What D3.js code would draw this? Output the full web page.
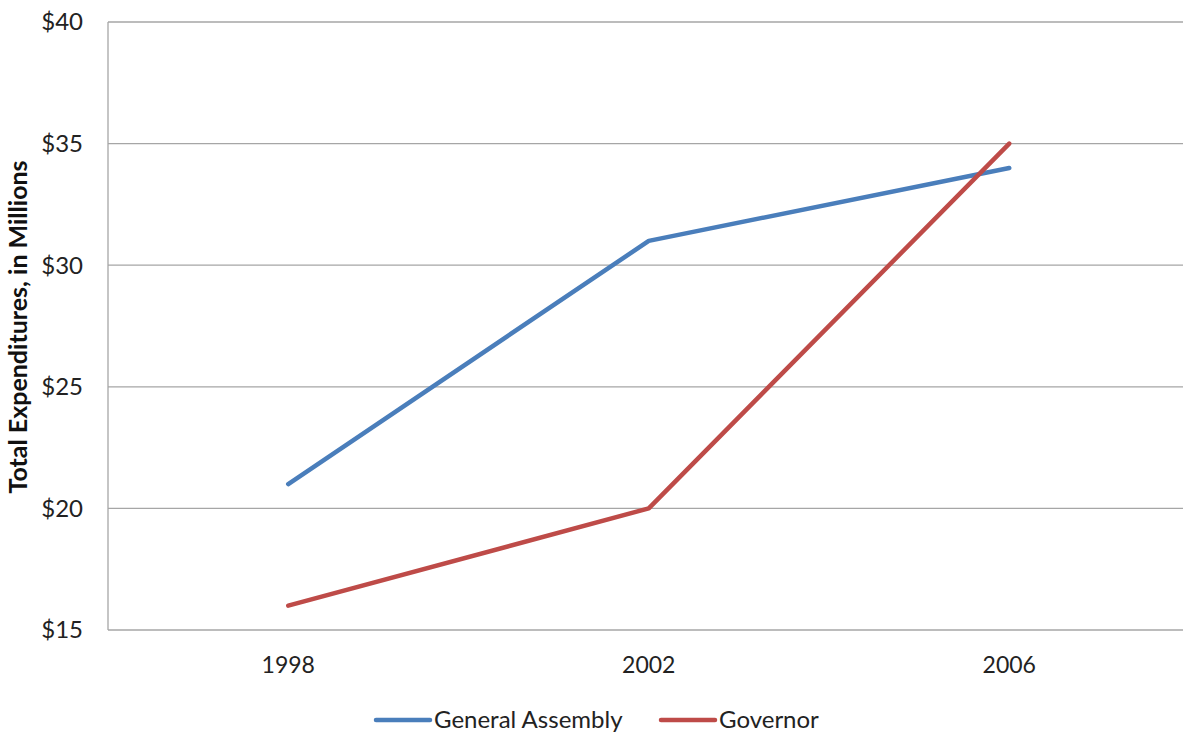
<!DOCTYPE html>
<html><head><meta charset="utf-8">
<script src="https://cdn.jsdelivr.net/npm/d3@7"></script>
<style>body{margin:0;background:#fff}svg{display:block}text{font-family:Lato,"Open Sans",sans-serif}</style>
</head><body>
<script>
const categories = ["1998","2002","2006"];
const generalAssembly = [21,31,34];
const governor = [16,20,35];
const yTicks = [15,20,25,30,35,40];
const seriesNames = ["General Assembly","Governor"];
const colors = ["#4a7ebb","#be4b48"];

(function(){
const W=1183,H=734;
const svg=d3.select("body").append("svg").attr("width",W).attr("height",H);
const pLeft=108, pTop=22, pBottom=630, band=360.5;
const x=d3.scaleBand().domain(categories).range([pLeft,pLeft+band*3]);
const y=d3.scaleLinear().domain([15,40]).range([pBottom,pTop]);

svg.append("g").selectAll("line").data(yTicks).join("line")
 .attr("x1",pLeft).attr("x2",W).attr("y1",d=>y(d)).attr("y2",d=>y(d))
 .attr("stroke","#a6a6a6").attr("stroke-width",1.3);
svg.append("line").attr("x1",pLeft).attr("x2",pLeft).attr("y1",pTop).attr("y2",pBottom)
 .attr("stroke","#a6a6a6").attr("stroke-width",1.3);

svg.append("g").selectAll("text").data(yTicks).join("text")
 .attr("x",83).attr("y",d=>y(d)).attr("dy","0.35em").attr("text-anchor","end")
 .attr("font-size",24).attr("fill","#222").text(d=>"$"+d);

svg.append("g").selectAll("text").data(categories).join("text")
 .attr("x",d=>x(d)+x.bandwidth()/2).attr("y",673).attr("text-anchor","middle")
 .attr("font-size",23).attr("fill","#222").text(d=>d);

svg.append("text").attr("transform","translate(27,327) rotate(-90)")
 .attr("text-anchor","middle").attr("font-size",25).attr("font-weight","bold").attr("fill","#111")
 .text("Total Expenditures, in Millions");

const line=d3.line().x((d,i)=>x(categories[i])+x.bandwidth()/2).y(d=>y(d));
[generalAssembly,governor].forEach((s,i)=>{
 svg.append("path").attr("d",line(s)).attr("fill","none").attr("stroke",colors[i])
  .attr("stroke-width",4.5).attr("stroke-linejoin","round").attr("stroke-linecap","round");
});

const legX=[376,661];
seriesNames.forEach((n,i)=>{
 svg.append("line").attr("x1",legX[i]).attr("x2",legX[i]+54).attr("y1",720).attr("y2",720)
  .attr("stroke",colors[i]).attr("stroke-width",4.5).attr("stroke-linecap","round");
 svg.append("text").attr("x",legX[i]+58).attr("y",720).attr("dy","0.35em")
  .attr("font-size",24).attr("fill","#222").text(n);
});
})();
</script>
</body></html>
